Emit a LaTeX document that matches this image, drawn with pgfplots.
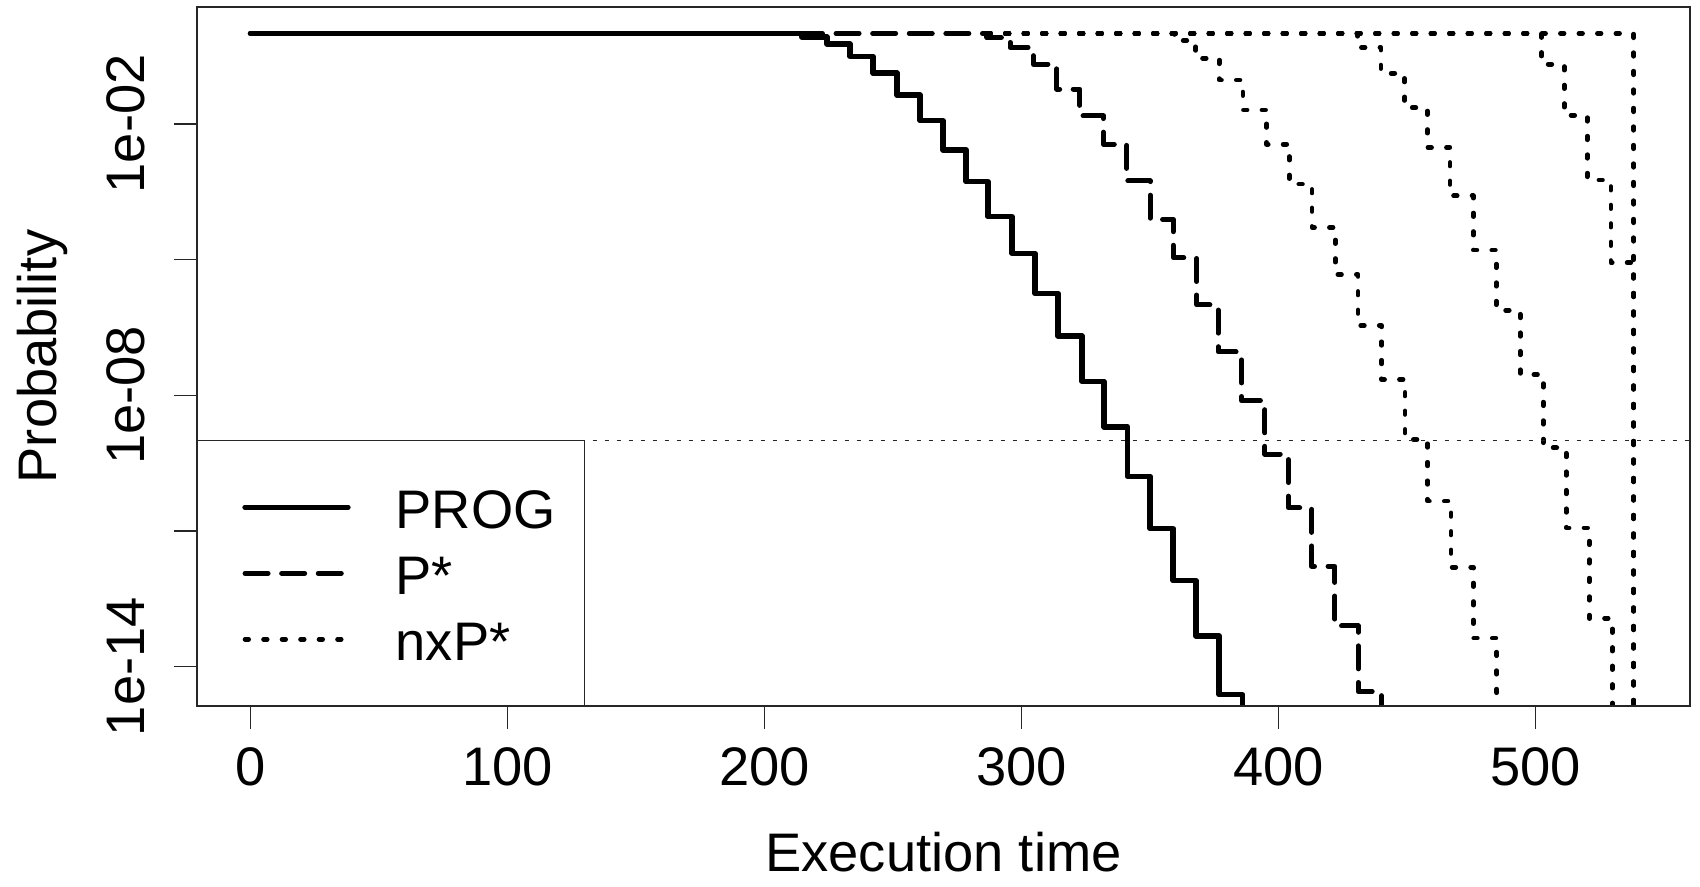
\documentclass[border=0pt]{standalone}
\usepackage{fontspec}
\setmainfont{Liberation Sans}
\usepackage{pgfplots}
\pgfplotsset{compat=1.18}

% line styles of the three kinds of curves
\tikzset{
  progline/.style={line width=0.55mm, line cap=round, line join=round},
  pstarline/.style={line width=0.5mm, line cap=round, line join=round, dash pattern=on 2.3mm off 1.36mm},
  nxline/.style={line width=0.47mm, line cap=round, line join=round, dash pattern=on 0.36mm off 1.49mm},
}

\begin{document}
\fontsize{15.45pt}{18pt}\selectfont
\begin{tikzpicture}
\useasboundingbox (0,0) rectangle (17cm,8.87cm);
\begin{axis}[
  at={(1.97cm,1.81cm)}, anchor=south west,
  scale only axis, width=14.93cm, height=6.99cm,
  ymode=log,
  xmin=-20.8, xmax=560.2,
  ymin=1.35e-15, ymax=3.85,
  xtick={0,100,200,300,400,500},
  xticklabels={0,100,200,300,400,500},
  ytick={1e-14,1e-11,1e-8,1e-5,1e-2},
  yticklabels={1e-14,,1e-08,,1e-02},
  tick pos=left, tick align=outside, major tick length=0.23cm,
  xminorticks=false, yminorticks=false,
  axis on top,
  axis line style={line width=0.13mm, black!85},
  tick style={line width=0.13mm, black!85},
  xticklabel style={anchor=base},
  yticklabel style={rotate=90, anchor=base},
  xticklabel shift=0.565cm, yticklabel shift=0.29cm,
  xlabel={Execution time}, ylabel={Probability},
  every axis x label/.style={at={(axis description cs:0.5,-0.2371)}, anchor=base},
  every axis y label/.style={at={(axis description cs:-0.0938,0.5)}, rotate=90, anchor=base},
]
% nxP*, several n (drawn first, under the others)
\addplot[nxline, const plot] coordinates {
  (286.6,1) (359.6,0.692) (367.8,0.282) (377.0,0.0933) (386.2,0.0204) (395.4,3.55e-3)
  (404.3,4.68e-4) (413.1,5.13e-5) (422.2,4.68e-6) (431.0,3.47e-7) (440.2,2.24e-8)
  (449.3,1.05e-9) (458.1,4.57e-11) (467.2,1.58e-12) (475.9,4.27e-14) (485.0,1e-17)
};
\addplot[nxline, const plot] coordinates {
  (286.6,1) (430.9,0.490) (439.9,0.132) (449.1,0.0229) (458.0,3.02e-3) (466.8,2.57e-4)
  (475.9,1.62e-5) (484.8,7.59e-7) (494.1,2.88e-8) (503.1,6.92e-10) (512.0,1.17e-11)
  (521.0,1.17e-13) (530.0,1e-17)
};
\addplot[nxline, const plot] coordinates {
  (286.6,1) (502.4,0.209) (511.3,0.0155) (520.2,5.75e-4) (529.4,8.51e-6) (538.3,1e-17)
};
\addplot[nxline, const plot] coordinates {
  (286.6,1) (538.3,1e-17)
};
% P*
\addplot[pstarline, const plot] coordinates {
  (0,1) (286.6,0.813) (295.6,0.490) (304.7,0.209) (313.8,0.0589) (322.8,0.0151)
  (331.9,3.55e-3) (341.0,5.50e-4) (350.1,7.76e-5) (359.1,1.10e-5) (368.2,1.0e-6)
  (376.6,9.12e-8) (385.7,7.59e-9) (394.8,5.01e-10) (403.9,3.24e-11) (413.0,1.66e-12)
  (422.0,7.94e-14) (431.1,2.82e-15) (440.2,1e-17)
};
% PROG
\addplot[progline, const plot] coordinates {
  (0,1) (214.6,0.830) (224.4,0.581) (233.3,0.310) (242.3,0.132) (251.6,0.0432)
  (260.6,0.01175) (269.5,2.66e-3) (278.5,5.31e-4) (287.0,8.91e-5) (296.4,1.38e-5)
  (305.3,1.78e-6) (314.3,2.04e-7) (323.6,2.04e-8) (332.1,2.00e-9) (341.3,1.62e-10)
  (350.1,1.12e-11) (359.1,7.94e-13) (368.0,4.79e-14) (377.0,2.40e-15) (386.1,1e-17)
};
% threshold
\addplot[line width=0.13mm, black!85, dash pattern=on 0.4mm off 0.8mm] coordinates {
  (-20.8,1e-9) (560.2,1e-9)
};
% legend
\draw[line width=0.13mm, black!85, fill=white] (rel axis cs:0,0) rectangle (rel axis cs:0.2595,0.3803);
\draw[progline] (rel axis cs:0.0322,0.2843) -- (rel axis cs:0.1011,0.2843);
\draw[pstarline] (rel axis cs:0.0322,0.1898) -- (rel axis cs:0.1011,0.1898);
\draw[nxline] (rel axis cs:0.0322,0.0954) -- (rel axis cs:0.1011,0.0954);
\node[anchor=base west, inner sep=0pt] at (rel axis cs:0.1326,0.2542) {PROG};
\node[anchor=base west, inner sep=0pt] at (rel axis cs:0.1326,0.1598) {P*};
\node[anchor=base west, inner sep=0pt] at (rel axis cs:0.1326,0.0654) {nxP*};
\end{axis}
\end{tikzpicture}
\end{document}
